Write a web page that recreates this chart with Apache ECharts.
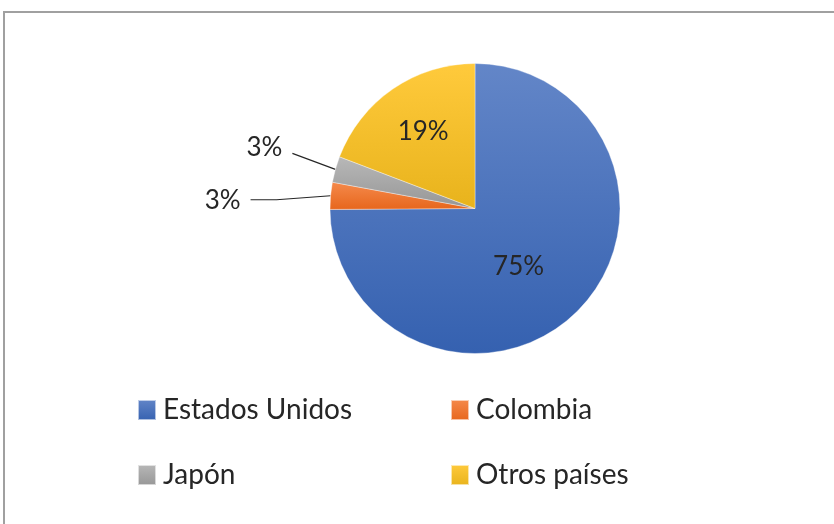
<!DOCTYPE html>
<html>
<head>
<meta charset="utf-8">
<script src="https://cdn.jsdelivr.net/npm/echarts@6/dist/echarts.min.js"></script>
<style>
  html, body { margin: 0; padding: 0; background: #fff; }
  #chart { width: 834px; height: 524px; }
</style>
</head>
<body>
<div id="chart"></div>
<script>
// data
const countries = ['Estados Unidos', 'Colombia', 'Japón', 'Otros países'];
const shares = [74.9, 3.0, 2.9, 19.2];
// top / bottom gradient stops, office-style
const topColors = ['#6386c8', '#f58a4c', '#b8b8b8', '#ffca3c'];
const bottomColors = ['#3561b0', '#e7661c', '#969696', '#e8b31c'];

const grad = (i) => new echarts.graphic.LinearGradient(0, 0, 0, 1, [
    { offset: 0, color: topColors[i] },
    { offset: 1, color: bottomColors[i] }
]);

const FONT = 'Lato, "Noto Sans", sans-serif';
const TEXT = '#262626';

const pieData = countries.map((name, i) => {
    const item = { name: name, value: shares[i], itemStyle: { color: grad(i) } };
    if (i === 1 || i === 2) {
        item.label = { position: 'outside' };
        item.labelLine = { show: true, length: 40, length2: 20 };
    } else {
        item.label = { position: 'inside' };
        item.labelLine = { show: false };
    }
    return item;
});

const legendText = { fontFamily: FONT, fontSize: 28, color: TEXT, lineHeight: 30, padding: [0, 0, 0, 2] };

const chart = echarts.init(document.getElementById('chart'), null, { renderer: 'canvas' });

chart.setOption({
    animation: false,
    backgroundColor: '#fff',
    graphic: [{
        type: 'rect',
        shape: { x: 4, y: 12, width: 900, height: 600 },
        style: { fill: 'none', stroke: '#a0a0a0', lineWidth: 2 },
        silent: true
    }],
    legend: [
        {
            orient: 'vertical',
            left: 132, top: 390,
            itemWidth: 18, itemHeight: 20, itemGap: 35,
            icon: 'rect',
            data: [countries[0], countries[2]],
            textStyle: legendText
        },
        {
            orient: 'vertical',
            left: 445, top: 390,
            itemWidth: 18, itemHeight: 20, itemGap: 35,
            icon: 'rect',
            data: [countries[1], countries[3]],
            textStyle: legendText
        }
    ],
    series: [{
        type: 'pie',
        center: [475, 208.5],
        radius: 145,
        startAngle: 90,
        clockwise: true,
        avoidLabelOverlap: false,
        itemStyle: { borderColor: 'rgba(255,255,255,0.6)', borderWidth: 0.6 },
        label: {
            fontFamily: FONT,
            fontSize: 26,
            color: TEXT,
            formatter: (p) => Math.round(p.percent) + '%'
        },
        labelLine: { lineStyle: { color: '#262626', width: 1.2 } },
        labelLayout: (p) => {
            // nudge the inside labels to where excel had them
            if (p.dataIndex === 0) return { dx: -10, dy: 5 };
            if (p.dataIndex === 3) return { dx: -9, dy: -15 };
            if (p.dataIndex === 1 || p.dataIndex === 2) {
                const edge = p.labelLinePoints[0];
                let pts;
                if (p.dataIndex === 1) {
                    const bend = [edge[0] - 54, edge[1] + 4];
                    pts = [edge, bend, [bend[0] - 26, bend[1]]];
                } else {
                    const bend = [edge[0] - 43, edge[1] - 16];
                    pts = [edge, bend, bend];
                }
                const end = pts[2];
                return {
                    x: end[0] - 10,
                    y: p.dataIndex === 2 ? end[1] - 6 : end[1] + 1,
                    align: 'right',
                    verticalAlign: 'middle',
                    labelLinePoints: pts
                };
            }
            return {};
        },
        emphasis: { disabled: true },
        data: pieData
    }]
});
</script>
</body>
</html>
